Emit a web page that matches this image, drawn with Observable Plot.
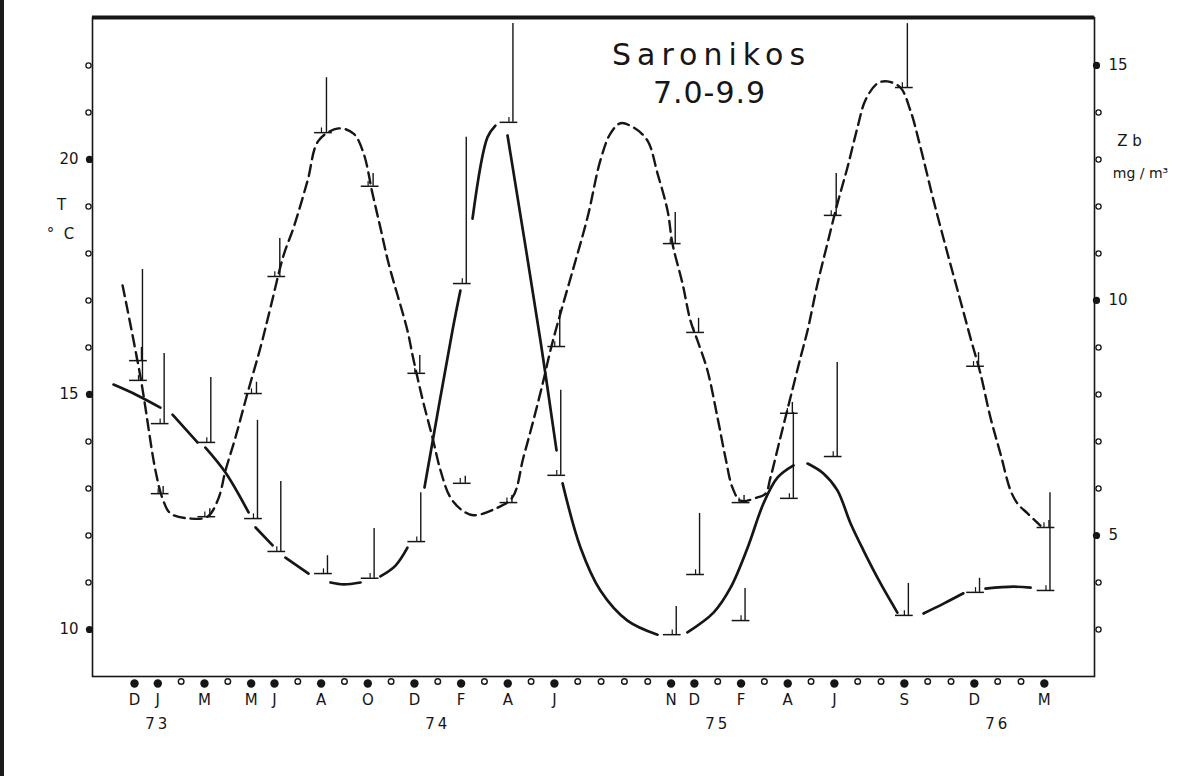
<!DOCTYPE html>
<html><head><meta charset="utf-8">
<script src="https://cdn.jsdelivr.net/npm/d3@7"></script>
<script src="https://cdn.jsdelivr.net/npm/@observablehq/plot@0.6"></script>
<style>
html,body{margin:0;padding:0;background:#fff;}
#wrap{position:relative;width:1186px;height:776px;overflow:hidden;}
#edge{position:absolute;left:0;top:0;width:4px;height:776px;background:#1a1a1a;}
</style></head>
<body><div id="wrap"><div id="edge"></div></div>
<script>
// ---- data (x in months since Dec 1972) ----
const sampleMonth = [0.17,1.1,3.1,5.1,6.1,8.1,10.1,12.1,14.05,16.05,18.1,23.05,24.05,26.0,28.07,29.95,33.0,36.05,39.07];
const tempBase = [15.72,12.89,12.40,15.02,17.51,20.57,19.43,15.45,13.11,12.70,16.02,18.21,16.32,12.70,14.60,18.81,21.53,15.60,12.17];
const tempTop  = [16.00,13.04,12.57,15.26,18.32,21.74,19.70,15.83,13.26,12.85,16.79,18.87,16.62,12.85,14.83,19.70,22.89,15.89,12.32];
const zbBase   = [8.30,7.38,6.98,5.36,4.66,4.19,4.09,4.87,10.36,13.79,6.28,2.89,4.17,3.19,5.79,6.68,3.30,3.79,3.83];
const zbTop    = [10.66,8.87,8.36,7.45,6.15,4.57,5.15,5.91,13.47,15.89,8.09,3.49,5.47,3.87,7.62,8.68,3.98,4.09,5.91];

// temperature curve (dashed)
const tCurveMonth = [-0.51,0.26,0.90,1.20,1.54,2.40,3.13,3.60,3.90,4.33,4.84,5.40,5.83,6.39,6.82,7.42,7.89,8.74,9.39,9.82,10.20,10.54,10.89,11.70,11.92,12.13,12.39,12.77,13.12,13.54,14.06,14.53,15.47,16.20,16.67,17.10,17.53,17.83,18.17,18.82,19.42,19.97,20.40,20.83,21.39,21.99,22.42,22.85,23.06,23.49,23.83,24.13,24.56,24.99,25.33,25.63,25.98,26.70,27.05,27.26,27.69,28.12,28.55,28.85,29.28,29.70,30.13,30.56,30.99,31.33,31.85,32.28,32.83,33.26,33.69,34.25,34.85,35.40,35.83,36.26,36.69,37.12,37.55,37.85,38.28,38.83];
const tCurveValue = [17.32,15.36,13.38,12.79,12.47,12.36,12.40,12.79,13.38,14.09,15.02,16.00,16.85,17.96,18.55,19.55,20.40,20.66,20.55,20.13,19.28,18.55,17.79,16.36,15.83,15.36,14.81,14.09,13.38,12.81,12.53,12.43,12.57,12.81,13.66,14.45,15.30,15.94,16.57,17.70,18.77,19.98,20.55,20.77,20.68,20.40,19.70,18.91,18.21,17.36,16.57,16.15,15.51,14.51,13.66,13.02,12.74,12.81,12.89,13.23,14.09,14.94,15.79,16.36,17.36,18.21,19.06,19.83,20.68,21.26,21.62,21.66,21.53,21.04,20.26,19.13,18.00,17.00,16.21,15.45,14.51,13.74,12.96,12.68,12.47,12.21];

// Zb curve (solid, drawn in pieces)
const zbCurveMonth = [-0.90,0.13,1.11, 1.63,2.70, 3.04,3.90,4.89, 5.19,5.92, 6.47,7.46, 8.40,8.96,9.69, 10.54,11.19,11.70, 12.43,13.63,13.97, 14.49,15.13,15.47, 15.99,17.40,18.09, 18.35,19.12,19.97,21.13,22.42, 23.70,24.82,25.55,26.28,26.96,27.56,28.25, 28.85,29.53,30.13,30.69,31.25,31.98,32.70, 33.82,34.68,35.53, 36.48,37.68,38.41];
const zbCurveValue = [8.21,7.98,7.72, 7.57,6.98, 6.87,6.34,5.49, 5.17,4.79, 4.53,4.19, 4.00,3.96,4.00, 4.13,4.36,4.74, 6.02,9.36,10.21, 11.74,13.47,13.72, 13.51,9.15,6.81, 6.11,4.74,3.83,3.19,2.89, 2.94,3.36,3.89,4.74,5.68,6.23,6.49, 6.53,6.32,5.96,5.26,4.68,3.98,3.36, 3.34,3.55,3.77, 3.87,3.91,3.89];
const zbCurveSeg = [1,1,1, 2,2, 3,3,3, 4,4, 5,5, 6,6,6, 7,7,7, 8,8,8, 9,9,9, 10,10,10, 11,11,11,11,11, 12,12,12,12,12,12,12, 13,13,13,13,13,13,13, 14,14,14, 15,15,15];

// axes
const leftTicks = [10,15,20];
const leftMinor = [11,12,13,14,16,17,18,19,21,22];
const rightTicks = [5,10,15];
const rightMinor = [3,4,6,7,8,9,11,12,13,14];
const monthTickPos = [0,1,3,5,6,8,10,12,14,16,18,23,24,26,28,30,33,36,39];
const monthTickLabels = ["D","J","M","M","J","A","O","D","F","A","J","N","D","F","A","J","S","D","M"];
const allMonths = d3.range(0, 40);
const yearPos = [1,13,25,37];
const yearLabels = ["73","74","75","76"];

const ZB_SHIFT = 7; // right axis (Zb) = left axis (T) - 7

// ---- build tables ----
const sticks = sampleMonth.map((m,i)=>({m, tb: tempBase[i], tt: tempTop[i], zb: zbBase[i]+ZB_SHIFT, zt: zbTop[i]+ZB_SHIFT}));
const tCurve = tCurveMonth.map((m,i)=>({m, v: tCurveValue[i]}));
const zbCurve = zbCurveMonth.map((m,i)=>({m, v: zbCurveValue[i]+ZB_SHIFT, s: zbCurveSeg[i]}));
const hollowMonths = allMonths.filter(m => !monthTickPos.includes(m));

const ink = "#161616";
const HW = 0.38;

const chart = Plot.plot({
  width: 1186, height: 776,
  marginLeft: 92, marginRight: 92, marginTop: 17, marginBottom: 100,
  x: {domain: [-1.80, 41.15], axis: null},
  y: {domain: [9.0, 23.02], axis: null},
  style: {fontFamily: "'DejaVu Sans', sans-serif", fontSize: "14px", color: ink, background: "transparent"},
  marks: [
    Plot.frame({stroke: ink, strokeWidth: 1.6}),
    Plot.ruleY([23.02], {stroke: ink, strokeWidth: 4}),

    // temperature curve
    Plot.line(tCurve, {x: "m", y: "v", curve: "catmull-rom", stroke: ink, strokeWidth: 2.4, strokeDasharray: "11,6"}),
    // Zb curve
    Plot.line(zbCurve, {x: "m", y: "v", z: "s", curve: "catmull-rom", stroke: ink, strokeWidth: 2.7}),

    // temperature sticks
    Plot.ruleY(sticks, {y: "tb", x1: d => d.m - HW, x2: d => d.m + HW, stroke: ink, strokeWidth: 1.5}),
    Plot.ruleX(sticks, {x: "m", y1: "tb", y2: "tt", dx: 3, stroke: ink, strokeWidth: 1.4}),
    Plot.ruleX(sticks, {x: "m", y1: "tb", y2: d => d.tb + 0.1, dx: -2, stroke: ink, strokeWidth: 1.2}),
    // Zb sticks
    Plot.ruleY(sticks, {y: "zb", x1: d => d.m - HW, x2: d => d.m + HW, stroke: ink, strokeWidth: 1.5}),
    Plot.ruleX(sticks, {x: "m", y1: "zb", y2: "zt", dx: 4, stroke: ink, strokeWidth: 1.4}),
    Plot.ruleX(sticks, {x: "m", y1: "zb", y2: d => d.zb + 0.1, dx: 0, stroke: ink, strokeWidth: 1.2}),

    // left axis dots & labels
    Plot.dot(leftMinor, {y: d => d, frameAnchor: "left", dx: -4, r: 2.6, stroke: ink, strokeWidth: 1.3, fill: "white"}),
    Plot.dot(leftTicks, {y: d => d, frameAnchor: "left", dx: -3, r: 3.6, fill: ink, stroke: "none"}),
    Plot.text(leftTicks, {y: d => d, text: d => String(d), frameAnchor: "left", textAnchor: "end", dx: -14, fontSize: 15, fill: ink}),
    // right axis dots & labels
    Plot.dot(rightMinor, {y: d => d + ZB_SHIFT, frameAnchor: "right", dx: 4, r: 2.6, stroke: ink, strokeWidth: 1.3, fill: "white"}),
    Plot.dot(rightTicks, {y: d => d + ZB_SHIFT, frameAnchor: "right", dx: 2, r: 3.6, fill: ink, stroke: "none"}),
    Plot.text(rightTicks, {y: d => d + ZB_SHIFT, text: d => String(d), frameAnchor: "right", textAnchor: "start", dx: 14, fontSize: 15, fill: ink}),

    // bottom axis dots & labels
    Plot.dot(hollowMonths, {x: d => d, frameAnchor: "bottom", dy: 5, r: 2.8, stroke: ink, strokeWidth: 1.4, fill: "white"}),
    Plot.dot(monthTickPos, {x: d => d, frameAnchor: "bottom", dy: 7, r: 4.2, fill: ink, stroke: "none"}),
    Plot.text(monthTickPos, {x: d => d, text: (d, i) => monthTickLabels[i], frameAnchor: "bottom", lineAnchor: "top", dy: 18, fontSize: 15, fill: ink}),
    Plot.text(yearPos, {x: d => d, text: (d, i) => yearLabels[i], frameAnchor: "bottom", lineAnchor: "top", dy: 42, fontSize: 15, fill: ink}),

    // axis titles
    Plot.text(["T"], {frameAnchor: "top-left", textAnchor: "middle", lineAnchor: "middle", dx: -31, dy: 188, fontSize: 15, fill: ink}),
    Plot.text(["°  C"], {frameAnchor: "top-left", textAnchor: "middle", lineAnchor: "middle", dx: -32, dy: 217, fontSize: 15, fill: ink}),
    Plot.text(["Z b"], {frameAnchor: "top-right", textAnchor: "middle", lineAnchor: "middle", dx: 35, dy: 124, fontSize: 15, fill: ink}),
    Plot.text(["mg / m³"], {frameAnchor: "top-right", textAnchor: "middle", lineAnchor: "middle", dx: 46, dy: 156, fontSize: 14, fill: ink}),

    // title
    Plot.text(["Saronikos"], {frameAnchor: "top-left", textAnchor: "middle", lineAnchor: "middle", dx: 619, dy: 38, fontSize: 30, fill: ink}),
    Plot.text(["7.0-9.9"], {frameAnchor: "top-left", textAnchor: "middle", lineAnchor: "middle", dx: 617, dy: 76, fontSize: 30, fill: ink})
  ]
});
// letter spacing of the hand-lettered labels
const spacing = {"Saronikos": "6px", "7.0-9.9": "1px", "73": "3px", "74": "3px", "75": "3px", "76": "3px"};
chart.querySelectorAll("text").forEach(t => {
  const s = spacing[t.textContent];
  if (s) t.style.letterSpacing = s;
});
document.getElementById("wrap").appendChild(chart);
chart.style.position = "absolute";
chart.style.left = "0px";
chart.style.top = "0px";
</script>
</body></html>
